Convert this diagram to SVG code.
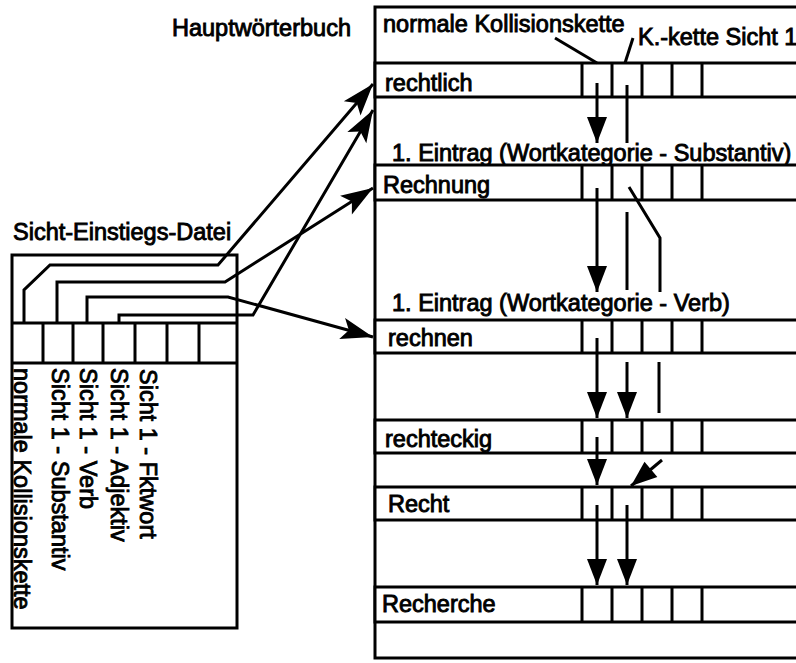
<svg xmlns="http://www.w3.org/2000/svg" width="796" height="663" viewBox="0 0 796 663">
<defs>
<style>
.t{font-family:"Liberation Sans",Arial,Helvetica,sans-serif;font-size:23.5px;fill:#000;stroke:#000;stroke-width:0.9}
.ln{fill:none;stroke:#000;stroke-width:3}
.bx{fill:#fff;stroke:#000;stroke-width:3}
</style>
<marker id="ah" markerUnits="userSpaceOnUse" viewBox="-34 -13 36 26" markerWidth="36" markerHeight="26" refX="0" refY="0" orient="auto">
<path d="M0,0 L-32,-11 L-25,0 L-32,11 Z" fill="#000"/>
</marker>
<marker id="av" markerUnits="userSpaceOnUse" viewBox="-27 -11 28 22" markerWidth="28" markerHeight="22" refX="0" refY="0" orient="auto">
<path d="M0,0 L-26,-10 L-26,10 Z" fill="#000"/>
</marker>
</defs>
<rect width="796" height="663" fill="#fff"/>

<text class="t" x="172" y="36">Hauptwörterbuch</text>
<text class="t" x="13" y="240">Sicht-Einstiegs-Datei</text>

<g id="hauptwoerterbuch">
<rect class="bx" x="375" y="7" width="440" height="651"/>
<text class="t" x="383" y="32">normale Kollisionskette</text>
<text class="t" x="638" y="45">K.-kette Sicht 1</text>
<text class="t" x="392" y="161">1. Eintrag (Wortkategorie - Substantiv)</text>
<text class="t" x="392" y="311">1. Eintrag (Wortkategorie - Verb)</text>
</g>

<g id="row-rechtlich">
<rect class="bx" x="375" y="63" width="440" height="34"/>
<path class="ln" d="M582,63V97M612,63V97M642,63V97M672,63V97M702,63V97"/>
<text class="t" x="385" y="91">rechtlich</text>
</g>
<g id="row-rechnung">
<rect class="bx" x="375" y="165" width="440" height="35"/>
<path class="ln" d="M582,165V200M612,165V200M642,165V200M672,165V200M702,165V200"/>
<text class="t" x="383" y="193">Rechnung</text>
</g>
<g id="row-rechnen">
<rect class="bx" x="375" y="320" width="440" height="33"/>
<path class="ln" d="M582,320V353M612,320V353M642,320V353M672,320V353M702,320V353"/>
<text class="t" x="388" y="346">rechnen</text>
</g>
<g id="row-rechteckig">
<rect class="bx" x="375" y="420" width="440" height="33"/>
<path class="ln" d="M582,420V453M612,420V453M642,420V453M672,420V453M702,420V453"/>
<text class="t" x="385" y="447">rechteckig</text>
</g>
<g id="row-recht">
<rect class="bx" x="375" y="487" width="440" height="33"/>
<path class="ln" d="M582,487V520M612,487V520M642,487V520M672,487V520M702,487V520"/>
<text class="t" x="388" y="512">Recht</text>
</g>
<g id="row-recherche">
<rect class="bx" x="375" y="587" width="440" height="35"/>
<path class="ln" d="M582,587V622M612,587V622M642,587V622M672,587V622M702,587V622"/>
<text class="t" x="382" y="612">Recherche</text>
</g>

<g id="sicht-einstiegs-datei">
<rect class="bx" x="12" y="255" width="225" height="373"/>
<path class="ln" d="M12,323H237M12,363H237M43,323V363M73,323V363M103,323V363M135,323V363M167,323V363M199,323V363"/>
<text class="t" transform="translate(14,368) rotate(90)">normale Kollisionskette</text>
<text class="t" transform="translate(52,368) rotate(90)">Sicht 1 - Substantiv</text>
<text class="t" transform="translate(80,368) rotate(90)">Sicht 1 - Verb</text>
<text class="t" transform="translate(111,368) rotate(90)">Sicht 1 - Adjektiv</text>
<text class="t" transform="translate(140,369) rotate(90)">Sicht 1 - Fktwort</text>
</g>

<g id="connectors">
<path class="ln" d="M555,38L597,63"/>
<path class="ln" d="M633,38L625,63"/>
<path class="ln" d="M24,323V290L50,265H218L373,84" marker-end="url(#ah)"/>
<path class="ln" d="M57,323V282H225L373,188" marker-end="url(#ah)"/>
<path class="ln" d="M87,323V297H228L373,337" marker-end="url(#ah)"/>
<path class="ln" d="M119,323V315H253L373,110" marker-end="url(#ah)"/>
<path class="ln" d="M597,83V143" marker-end="url(#av)"/>
<path class="ln" d="M627,85V143"/>
<path class="ln" d="M597,188V292" marker-end="url(#av)"/>
<path class="ln" d="M627,212V290"/>
<path class="ln" d="M629,187L660,238V292"/>
<path class="ln" d="M597,338V418" marker-end="url(#av)"/>
<path class="ln" d="M627,362V418" marker-end="url(#av)"/>
<path class="ln" d="M659,362V413"/>
<path class="ln" d="M597,437V485" marker-end="url(#av)"/>
<path class="ln" d="M662,460L631,486" marker-end="url(#av)"/>
<path class="ln" d="M597,505V585" marker-end="url(#av)"/>
<path class="ln" d="M627,505V585" marker-end="url(#av)"/>
</g>
</svg>
